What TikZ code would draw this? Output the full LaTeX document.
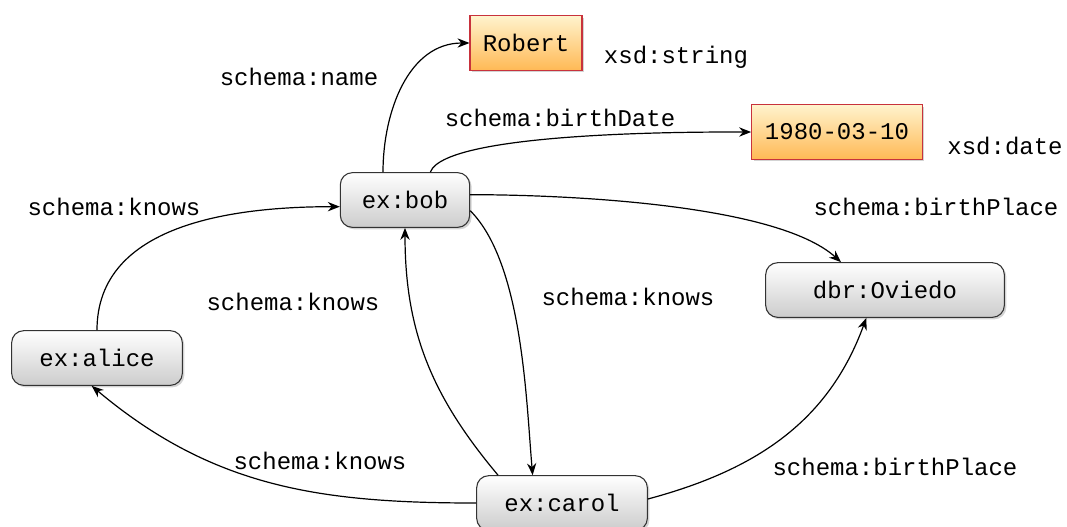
\documentclass[tikz,border=0pt]{standalone}
\usepackage{fontspec}
\setmonofont{Liberation Mono}
\usetikzlibrary{shapes, arrows, arrows.meta, positioning, shadows}
\definecolor{bordeliteral}{RGB}{200,50,60}
\definecolor{naranja}{RGB}{255,185,85}
\definecolor{crema}{RGB}{255,243,205}
\tikzstyle{recurso} = [draw=black!80, thick, rectangle, rounded corners=9pt, top color=white, bottom color=gray!40, drop shadow={shadow xshift=1.5pt, shadow yshift=-1.5pt, opacity=0.35}, font=\ttfamily\fontsize{18}{20}\selectfont, minimum height=41pt]
\tikzstyle{literal} = [draw=bordeliteral, thick, rectangle, top color=crema, bottom color=naranja, drop shadow={shadow xshift=1.5pt, shadow yshift=-1.5pt, opacity=0.35}, font=\ttfamily\fontsize{18}{20}\selectfont, minimum height=41pt]
\tikzstyle{etiqueta} = [font=\ttfamily\fontsize{18}{20}\selectfont, inner sep=0pt]
\tikzstyle{arco} = [line width=0.9pt, -{Stealth[length=9pt,width=7pt]}]

\begin{document}
\begin{tikzpicture}[x=0.75pt, y=-0.75pt]
	\useasboundingbox (0,0) rectangle (1067,526);
	% nodos
	\node[recurso, minimum width=97pt] (bob) at (405,200) {ex:bob};
	\node[recurso, minimum width=128pt] (alice) at (97,358) {ex:alice};
	\node[recurso, minimum width=179pt] (oviedo) at (885,290) {dbr:Oviedo};
	\node[recurso, minimum width=128pt] (carol) at (562,503) {ex:carol};
	\node[literal, minimum width=84pt] (robert) at (526,43) {Robert};
	\node[literal, minimum width=128pt] (fecha) at (837,132) {1980-03-10};
	% tipos
	\node[etiqueta] (tstring) at (676,57) {xsd:string};
	\node[etiqueta] (tdate) at (1005,146) {xsd:date};
	% arcos
	\draw[arco] ([xshift=-16.5pt]bob.north) to[out=90, in=180] (robert.west);
	\draw[arco] ([xshift=19pt]bob.north) to[out=70, in=180, looseness=0.35] (fecha.west);
	\draw[arco] ([yshift=4pt]bob.east) to[out=0, in=138, looseness=0.6] ([xshift=-33pt]oviedo.north);
	\draw[arco] ([yshift=-8pt]bob.east) to[out=-45, in=95, looseness=0.7] ([xshift=-22pt]carol.north);
	\draw[arco] ([xshift=-48pt]carol.north) to[out=130, in=-90] (bob.south);
	\draw[arco] (alice.north) to[out=90, in=180] ([yshift=-5pt]bob.west);
	\draw[arco] (carol.west) to[out=180, in=-40] ([xshift=-4pt]alice.south);
	\draw[arco] ([yshift=3pt]carol.east) to[out=15, in=-110] ([xshift=-14pt]oviedo.south);
	% etiquetas
	\node[etiqueta] (lname) at (299,77) {schema:name};
	\node[etiqueta] (lbirth) at (560,118) {schema:birthDate};
	\node[etiqueta] (lknows1) at (114,207) {schema:knows};
	\node[etiqueta] (lplace1) at (936,207) {schema:birthPlace};
	\node[etiqueta] (lknows2) at (293,302) {schema:knows};
	\node[etiqueta] (lknows3) at (628,297) {schema:knows};
	\node[etiqueta] (lknows4) at (320,461) {schema:knows};
	\node[etiqueta] (lplace2) at (895,467) {schema:birthPlace};
\end{tikzpicture}
\end{document}
